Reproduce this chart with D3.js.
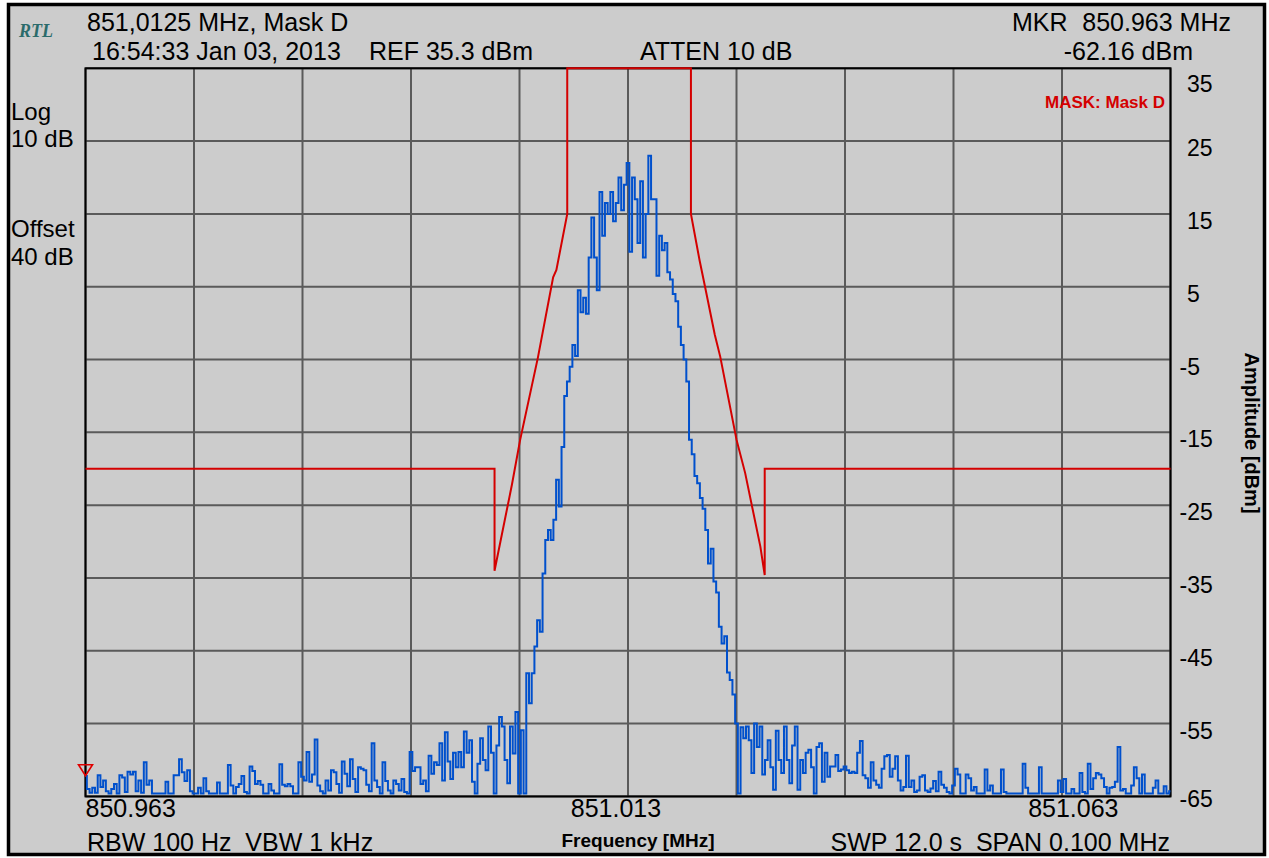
<!DOCTYPE html>
<html>
<head>
<meta charset="utf-8">
<script src="https://d3js.org/d3.v7.min.js"></script>
<style>
body { margin: 0; background: #fff; }
text { font-family: "Liberation Sans", Arial, sans-serif; fill: #000; }
</style>
</head>
<body>
<script>
// sweep: 401 points from 850.9625 to 851.0625 MHz
var startFreq = 850.9625, stepFreq = 0.00025;

var trace = [
  -62.2,-64,-64.5,-63.8,-64.5,-62.1,-63.7,-62.8,-64.3,-64.6,
  -64,-63.3,-64.6,-62.1,-62.4,-64.4,-61.6,-62,-61.6,-64.3,
  -62.8,-64.5,-60.3,-63.4,-62.8,-64.6,-64.6,-64.6,-64.6,-64.6,
  -63,-64.6,-64.6,-62.1,-62.1,-59.9,-61.7,-62.9,-61.4,-64.3,
  -64.6,-64.6,-63.8,-64.6,-62.5,-64.3,-64.6,-64.6,-64.6,-63.1,
  -64.6,-64.6,-64.6,-60.7,-63.5,-64.6,-63.7,-63.3,-62.2,-64.4,
  -64.6,-60.9,-61.5,-63.3,-62.9,-63.4,-64.6,-64.6,-63.3,-64.2,
  -64.6,-64.6,-60.6,-63.4,-63.6,-63.3,-63.6,-64.6,-64.6,-60.3,
  -62.3,-62.8,-58.9,-63,-62,-57.2,-63.5,-64.3,-64.6,-62.8,
  -64.2,-61.4,-61.7,-63.3,-64.5,-60.2,-61.9,-63.6,-59.9,-62.6,
  -64.4,-61,-61.2,-61.4,-63.4,-64.3,-57.7,-62.8,-63.7,-64.6,
  -60.3,-62.9,-64.2,-64.6,-62.8,-63.3,-64.2,-62.6,-64.4,-64.6,
  -58.9,-61.5,-61,-61,-63.3,-62.8,-64.3,-59.4,-61.9,-60.3,
  -60.7,-57.7,-62.8,-56.2,-60.2,-62.6,-59,-61,
  -58.9,-61,-56.1,-59,-57.3,-63,-64.6,-60.5,-57,-60,
  -61.4,-55.4,-59,-64.6,-58,-54.1,-55.4,-60,-63.2,-55.4,
  -59.1,-53.4,-64.6,-55.9,-64.6,-48.1,-52.2,-48.1,-44.4,-40.8,
  -42.4,-34.4,-29.8,-28.4,-29.8,-27,-21.5,-25.2,
  -17,-10,-8,-6,-3,-4.5,4.5,1.5,3.5,1.3,
  9,14.5,9,4.5,18,12,16.5,15,18,14,
  16.5,20,15.5,19,22,9.8,20,17,11,19.5,
  9,15,23,17,17,6.5,12,10,11,7,
  6,4,3,-0.5,-3,-5,-8,-16,-18,-21,
  -22,-24,-25.5,-28.4,-33,-31,-35.5,-37,-41.7,-44,
  -43,-48,-49,-51,-55,
  -64.6,-55.5,-57,-55.4,-57.3,-61.8,-55,-58.2,-55.4,-62,
  -60,-57.3,-61,-64.1,-56,-60,-61.8,-55.4,-60,-63.2,
  -58,-55.4,-64.1,-60,-61.8,-59,-58.6,-61,-64.6,-58.2,
  -57.7,-63,-59,-62.3,-60.9,-60.9,-59.3,-61.5,-61.3,-60.9,
  -61.4,-61.8,-61.6,-61.8,-59,-57.4,-62.1,-62.5,-63.8,-60.3,
  -62.8,-63.4,-63.8,-61.2,-59.5,-59.3,-62.3,-61.2,-59.5,-62.8,
  -64.2,-63.7,-59.4,-63.7,-62.8,-64.4,-64.2,-62.3,-62.1,-64.2,
  -64.4,-63.9,-62.9,-64.3,-61.6,-63.4,-63.8,-64.4,-64.6,-63.5,
  -61.2,-62,-64.6,-64.6,-62,-62.5,-64.2,-63.7,-64.6,-64.6,
  -64.6,-61.3,-64.2,-63.5,-64.6,-64.6,-64.6,-61.3,-64.4,-64.6,
  -64.6,-64.6,-64.6,-64.6,-64.6,-60.5,-63.8,-64.6,-64.6,-64.6,
  -64.6,-61,-64.6,-64.6,-64.6,-64.6,-64.6,-64.6,-62.8,-64.4,
  -62.6,-64.6,-64.6,-64,-64.6,-64.6,-61.8,-64.4,-64.6,-60.5,
  -64,-62.5,-61.8,-62,-62.5,-63.7,-64.6,-63.8,-63.7,-63,
  -58.2,-64.2,-64,-64.6,-64.6,-63.5,-61,-62.5,-64.6,-62,
  -64.6,-64.6,-64.6,-63.8,-62.8,-64.6,-64.6,-63.6,-64.6,-64.3
];

// limit mask "Mask D"
var maskFreq = [850.9625, 851.0002, 851.0002, 851.0018, 851.00255, 851.0042, 851.0056, 851.0059,
  851.0069, 851.0069, 851.0183, 851.0183, 851.0191, 851.0196, 851.0205, 851.0210,
  851.0225, 851.0233, 851.0247, 851.0251, 851.0251, 851.0625];
var maskLevel = [-20, -20, -34, -22.2, -16.1, -4.7, 6.3, 7.3,
  15, 35, 35, 15, 8.6, 5, -1.6, -4.6,
  -16, -20.6, -30.7, -34.6, -20, -20];

var levelTicks = [35, 25, 15, 5, -5, -15, -25, -35, -45, -55, -65];
var freqGrid = [850.9625, 850.9725, 850.9825, 850.9925, 851.0025, 851.0125,
  851.0225, 851.0325, 851.0425, 851.0525, 851.0625];
var freqLabels = ["850.963", "851.013", "851.063"];
var markerFreq = 850.9625, markerLevel = -62.16;

var width = 1269, height = 858;

var svg = d3.select("body").append("svg")
  .attr("width", width)
  .attr("height", height);

var x = d3.scaleLinear().domain([850.9625, 851.0625]).range([85.5, 1170.5]);
var y = d3.scaleLinear().domain([-65, 35]).range([796.4, 68.3]);

// frame
svg.append("rect")
  .attr("x", 8.5).attr("y", 4.5)
  .attr("width", 1256).attr("height", 850)
  .attr("fill", "#cccccc")
  .attr("stroke", "#000")
  .attr("stroke-width", 3.5);

// grid
svg.append("g").selectAll("line")
  .data(freqGrid)
  .enter().append("line")
  .attr("x1", d => x(d)).attr("x2", d => x(d))
  .attr("y1", y(35)).attr("y2", y(-65))
  .attr("stroke", "#5a5a5a")
  .attr("stroke-width", 2);

svg.append("g").selectAll("line")
  .data(levelTicks)
  .enter().append("line")
  .attr("x1", x(850.9625)).attr("x2", x(851.0625))
  .attr("y1", d => y(d)).attr("y2", d => y(d))
  .attr("stroke", "#5a5a5a")
  .attr("stroke-width", 2);

svg.append("rect")
  .attr("x", x(850.9625)).attr("y", y(35))
  .attr("width", x(851.0625) - x(850.9625))
  .attr("height", y(-65) - y(35))
  .attr("fill", "none")
  .attr("stroke", "#000")
  .attr("stroke-width", 2);

// mask
var maskPts = maskFreq.map((f, i) => [f, maskLevel[i]]);
svg.append("path")
  .datum(maskPts)
  .attr("d", d3.line().x(d => x(d[0])).y(d => y(d[1])))
  .attr("fill", "none")
  .attr("stroke", "#d40000")
  .attr("stroke-width", 2);

// trace (stepped, like the analyser display)
svg.append("path")
  .datum(trace)
  .attr("d", d3.line()
    .x((d, i) => x(startFreq + i * stepFreq))
    .y(d => y(d))
    .curve(d3.curveStep))
  .attr("fill", "none")
  .attr("stroke", "#0050cc")
  .attr("stroke-width", 2);

// marker
var mx = x(markerFreq), my = y(markerLevel);
svg.append("path")
  .attr("d", "M" + (mx - 7) + "," + (my - 11) + "L" + (mx + 7) + "," + (my - 11) + "L" + mx + "," + my + "Z")
  .attr("fill", "none")
  .attr("stroke", "#e00000")
  .attr("stroke-width", 1.6);

// right axis labels
svg.append("g").selectAll("text")
  .data(levelTicks)
  .enter().append("text")
  .attr("x", d => d < 0 ? 1179.5 : 1187)
  .attr("y", d => d === 35 ? 92 : d === -65 ? 807 : y(d) + 15)
  .style("font-size", "23px")
  .text(d => d);

svg.append("text")
  .attr("transform", "translate(1244.5,433) rotate(90)")
  .attr("text-anchor", "middle")
  .style("font-size", "20px")
  .style("font-weight", "bold")
  .text("Amplitude [dBm]");

svg.append("text")
  .attr("x", 1165).attr("y", 108)
  .attr("text-anchor", "end")
  .style("font-size", "17px")
  .style("font-weight", "bold")
  .style("fill", "#d40000")
  .text("MASK: Mask D");

// left labels
var leftText = [["Log", 120], ["10 dB", 147], ["Offset", 237], ["40 dB", 265]];
svg.append("g").selectAll("text")
  .data(leftText)
  .enter().append("text")
  .attr("x", 11)
  .attr("y", d => d[1])
  .style("font-size", "24px")
  .text(d => d[0]);

// header
svg.append("text")
  .attr("x", 19).attr("y", 37)
  .style("font-family", "'Liberation Serif', serif")
  .style("font-style", "italic")
  .style("font-weight", "bold")
  .style("font-size", "18px")
  .style("fill", "#2b6b6b")
  .text("RTL");

var header = [
  ["851,0125 MHz, Mask D", 87, 31, "start"],
  ["16:54:33 Jan 03, 2013", 92, 60, "start"],
  ["REF 35.3 dBm", 369, 60, "start"],
  ["ATTEN 10 dB", 640, 60, "start"],
  ["MKR", 1012, 31, "start"],
  ["850.963 MHz", 1231, 31, "end"],
  ["-62.16 dBm", 1193, 60, "end"]
];
svg.append("g").selectAll("text")
  .data(header)
  .enter().append("text")
  .attr("x", d => d[1]).attr("y", d => d[2])
  .attr("text-anchor", d => d[3])
  .style("font-size", "25px")
  .text(d => d[0]);

// bottom
svg.append("text").attr("x", x(850.9625)).attr("y", 817)
  .style("font-size", "25px").text(freqLabels[0]);
svg.append("text").attr("x", x(851.0125) - 12).attr("y", 817)
  .attr("text-anchor", "middle")
  .style("font-size", "25px").text(freqLabels[1]);
svg.append("text").attr("x", x(851.0625) - 52).attr("y", 817)
  .attr("text-anchor", "end")
  .style("font-size", "25px").text(freqLabels[2]);

svg.append("text").attr("x", 87).attr("y", 851)
  .style("font-size", "25px")
  .style("white-space", "pre")
  .text("RBW 100 Hz  VBW 1 kHz");
svg.append("text").attr("x", 1170).attr("y", 851)
  .attr("text-anchor", "end")
  .style("font-size", "25px")
  .style("white-space", "pre")
  .text("SWP 12.0 s  SPAN 0.100 MHz");
svg.append("text").attr("x", 638).attr("y", 847)
  .attr("text-anchor", "middle")
  .style("font-size", "19px")
  .style("font-weight", "bold")
  .text("Frequency [MHz]");
</script>
</body>
</html>
